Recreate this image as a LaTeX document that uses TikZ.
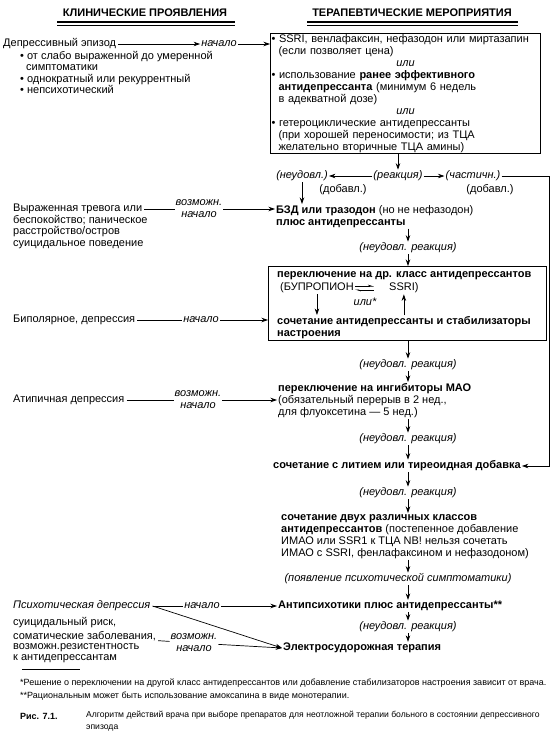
\documentclass[tikz,border=0pt]{standalone}
\usepackage{fontspec}
\setmainfont{Liberation Sans}
\usepackage{tikz}
\usetikzlibrary{positioning,arrows.meta}
\newcommand\fnt{\fontsize{11}{12}\selectfont}
\newcommand\lfnt{\fontsize{11}{11.5}\selectfont}
\newcommand\sfnt{\fontsize{9}{11}\selectfont}
\newcommand\cfnt{\fontsize{8.6}{12}\selectfont}

\begin{document}
\begin{tikzpicture}[x=1pt, y=-1pt,
  txt/.style={font=\fnt, inner sep=1pt, align=left},
  ltx/.style={font=\lfnt, inner xsep=2pt, inner ysep=0pt, align=left},
  it/.style={font=\fnt\itshape, inner sep=1pt, align=center},
  hd/.style={font=\fnt\bfseries, inner sep=1pt},
  bx/.style={draw, line width=1pt, inner xsep=4pt, inner ysep=4.5pt},
  ar/.style={-{Stealth[length=6.5pt, width=4.5pt]}, line width=0.7pt},
  hp/.style={-{Stealth[harpoon, length=5pt, width=3pt]}, line width=0.6pt},
  ln/.style={line width=0.7pt},
  fn/.style={font=\sfnt, inner sep=0pt, align=left},
]
\useasboundingbox (0,0) rectangle (552,745);

% headings
\node[hd] (hl) at (145,13) {КЛИНИЧЕСКИЕ ПРОЯВЛЕНИЯ};
\node[hd] (hr) at (412,13) {ТЕРАПЕВТИЧЕСКИЕ МЕРОПРИЯТИЯ};
\foreach \a/\b in {57/235, 307/518} {
  \draw[line width=1.1pt] (\a,22) -- (\b,22);
  \draw[line width=0.5pt] (\a,25) -- (\b,25);
}

% clinical picture (left column)
\node[ltx, anchor=west] (dep) at (1,44) {Депрессивный эпизод};
\node[ltx, anchor=north west] (depl) at (18,51)
    {\textbullet\ от слабо выраженной до умеренной\\
     \hspace*{6pt}симптоматики\\
     \textbullet\ однократный или рекуррентный\\
     \textbullet\ непсихотический};
\node[it] (depn) at (219,44) {начало};

\node[ltx, anchor=west] (anx) at (11,209) {Выраженная тревога или};
\node[ltx, below=1pt of anx.south west, anchor=north west] (anxr)
    {беспокойство; паническое\\расстройство/остров\\суицидальное поведение};
\node[it] (vn1) at (199,209) {возможн.\\начало};

\node[ltx, anchor=west] (bip) at (11,320) {Биполярное, депрессия};
\node[it] (bipn) at (201,320) {начало};

\node[ltx, anchor=west] (aty) at (11,400) {Атипичная депрессия};
\node[it] (vn2) at (198,400) {возможн.\\начало};

\node[ltx, anchor=west, font=\lfnt\itshape] (psy) at (11,606) {Психотическая депрессия};
\node[it] (psyn) at (202,606) {начало};

\node[ltx, anchor=west] (sui) at (11,623) {суицидальный риск,};
\node[ltx, below=2.5pt of sui.south west, anchor=north west] (som) {соматические заболевания,};
\node[ltx, below=2.5pt of som.south west, anchor=north west] (sur)
    {возможн.резистентность\\к антидепрессантам};
\node[it] (vn3) at (194,643) {возможн.\\начало};

% therapy (right column)
\coordinate (col) at (408,0);
\node[bx, txt, anchor=north west, text width=268pt] (box1) at (270,33)
    {\textbullet\ SSRI, венлафаксин, нефазодон или миртазапин\\
     \hspace*{7pt}(если позволяет цена)\\
     \makebox[\linewidth]{\itshape или}\\
     \textbullet\ использование \textbf{ранее эффективного}\\
     \hspace*{7pt}\textbf{антидепрессанта} (минимум 6 недель\\
     \hspace*{7pt}в адекватной дозе)\\
     \makebox[\linewidth]{\itshape или}\\
     \textbullet\ гетероциклические антидепрессанты\\
     \hspace*{7pt}(при хорошей переносимости; из ТЦА\\
     \hspace*{7pt}желательно вторичные ТЦА амины)};

\node[it] (rea) at (398,176) {(реакция)};
\node[it] (neu1) at (302,176) {(неудовл.)};
\node[it] (cha) at (473,176) {(частичн.)};
\node[txt] (dob1) at (343,190) {(добавл.)};
\node[txt] (dob2) at (490,190) {(добавл.)};
\coordinate (rc) at (549,176);

\node[txt, anchor=north west] (bzd) at (275,204)
    {\textbf{БЗД или тразодон} (но не нефазодон)\\\textbf{плюс антидепрессанты}};
\node[it] (nr1) at (408,248) {(неудовл. реакция)};

\node[draw, line width=1pt, minimum width=278pt, minimum height=74pt,
      anchor=north west, inner sep=0pt] (box2) at (268,266) {};
\node[txt, anchor=west, font=\fnt\bfseries] (sw) at (276,276)
    {переключение на др. класс антидепрессантов};
\node[txt, anchor=west] (bup) at (279,288) {(БУПРОПИОН};
\node[txt, anchor=west] (ssri) at (388,288) {SSRI)};
\node[it] (ili) at (365,302) {или*};
\node[txt, anchor=north west, font=\fnt\bfseries] (comb) at (276,315)
    {сочетание антидепрессанты и стабилизаторы\\настроения};

\node[it] (nr2) at (408,365) {(неудовл. реакция)};
\node[txt, anchor=north west] (mao) at (277,382)
    {\textbf{переключение на ингибиторы МАО}\\
     (обязательный перерыв в 2 нед.,\\
     для флуоксетина — 5 нед.)};
\node[it] (nr3) at (408,439) {(неудовл. реакция)};
\node[txt, anchor=west, font=\fnt\bfseries] (lith) at (272,466)
    {сочетание с литием или тиреоидная добавка};
\node[it] (nr4) at (408,493) {(неудовл. реакция)};
\node[txt, anchor=north west] (two) at (280,513)
    {\textbf{сочетание двух различных классов}\\
     \textbf{антидепрессантов} (постепенное добавление\\
     ИМАО или SSR1 к ТЦА NB! нельзя сочетать\\
     ИМАО с SSRI, фенлафаксином и нефазодоном)};
\node[it] (psyc) at (398,579) {(появление психотической симптоматики)};
\node[txt, anchor=west, font=\fnt\bfseries] (apsy) at (277,606)
    {Антипсихотики плюс антидепрессанты**};
\node[it] (nr5) at (408,627) {(неудовл. реакция)};
\node[txt, anchor=west, font=\fnt\bfseries] (ect) at (282,648)
    {Электросудорожная терапия};

% main chain
\draw[ar] (box1.south -| rea) -- (rea);
\draw[ar] (rea) -- (neu1);
\draw[ar] (rea) -- (cha);
\draw[ar] (neu1) -- (neu1 |- bzd.north);
\draw[ar] (cha.east) -- (rc) |- (lith.east);
\foreach \a/\b in {bzd/nr1, nr1/box2, box2/nr2, nr2/mao, mao/nr3, nr3/lith,
                   lith/nr4, nr4/two, two/psyc, psyc/apsy, apsy/nr5, nr5/ect}
  \draw[ar] (\a.south -| col) -- (col |- \b.north);

% inside the switching box
\draw[ar] (bup.south) -- (bup.south |- comb.north);
\draw[ar] (ssri.south |- comb.north) -- (ssri.south);
\draw[hp] ([yshift=1.8pt]bup.east) -- ([yshift=1.8pt, xshift=19pt]bup.east);
\draw[hp] ([yshift=-1.8pt, xshift=19pt]bup.east) -- ([yshift=-1.8pt]bup.east);

% entry points from the left
\draw[ar] (dep) -- (depn);
\draw[ar] (depn) -- (depn -| box1.west);
\draw[ln] (anx) -- (vn1);
\draw[ar] (vn1) -- (vn1 -| bzd.west);
\draw[ln] (bip) -- (bipn);
\draw[ar] (bipn) -- (bipn -| box2.west);
\draw[ln] (aty) -- (vn2);
\draw[ar] (vn2) -- (vn2 -| mao.west);
\draw[ln] (psy) -- (psyn);
\draw[ar] (psyn) -- (psyn -| apsy.west);
\draw[ar] (psy.east) -- (ect.west);
\draw[ln] (som) -- (vn3);
\draw[ar] (vn3) -- (ect.west);

% footnotes and caption
\draw[line width=0.5pt] (22,669) -- (80,669);
\node[fn, anchor=west] (fn1) at (20,683)
    {*Решение о переключении на другой класс антидепрессантов или добавление стабилизаторов настроения зависит от врача.};
\node[fn, anchor=west] (fn2) at (20,696)
    {**Рациональным может быть использование амоксапина в виде монотерапии.};
\node[fn, anchor=west, font=\sfnt\bfseries] (fig) at (20,716) {Рис. 7.1.};
\node[fn, anchor=north west, font=\cfnt] (cap) at (86,711)
    {Алгоритм действий врача при выборе препаратов для неотложной терапии больного в состоянии депрессивного\\эпизода};
\end{tikzpicture}
\end{document}
